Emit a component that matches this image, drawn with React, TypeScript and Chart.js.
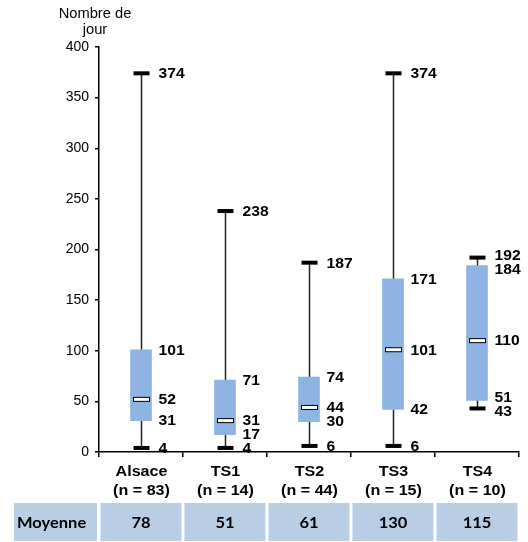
import React, { useEffect, useRef } from "react";
import { Chart, registerables } from "chart.js";

Chart.register(...registerables);

const categories = ["Alsace", "TS1", "TS2", "TS3", "TS4"];
const sampleSizes = ["(n = 83)", "(n = 14)", "(n = 44)", "(n = 15)", "(n = 10)"];
const minValues = [4, 4, 6, 6, 43];
const q1Values = [31, 17, 30, 42, 51];
const medianValues = [52, 31, 44, 101, 110];
const q3Values = [101, 71, 74, 171, 184];
const maxValues = [374, 238, 187, 374, 192];
const meanValues = [78, 51, 61, 130, 115];
const meanRowLabel = "Moyenne";
const yAxisTitle = ["Nombre de", "jour"];
const yMin = 0;
const yMax = 400;
const yStep = 50;

const STRETCH = 1.12;

function drawText(ctx: CanvasRenderingContext2D, text: string, x: number, y: number, align: CanvasTextAlign, font: string, sx = STRETCH) {
  ctx.save();
  ctx.font = font;
  ctx.fillStyle = "#000";
  ctx.textAlign = align;
  ctx.textBaseline = "middle";
  ctx.translate(x, y);
  ctx.scale(sx, 1);
  ctx.fillText(text, 0, 0);
  ctx.restore();
}

const boxPlotPlugin = {
  id: "boxPlotExtras",
  beforeDatasetsDraw(chart: any) {
    const ctx = chart.ctx as CanvasRenderingContext2D;
    const xs = chart.scales.x;
    const ys = chart.scales.y;
    ctx.save();
    ctx.strokeStyle = "#222";
    ctx.lineWidth = 1.5;
    categories.forEach((_, i) => {
      const x = Math.round(xs.getPixelForValue(i)) + 0.5;
      ctx.beginPath();
      ctx.moveTo(x, ys.getPixelForValue(minValues[i]));
      ctx.lineTo(x, ys.getPixelForValue(maxValues[i]));
      ctx.stroke();
    });
    ctx.restore();
  },
  afterDatasetsDraw(chart: any) {
    const ctx = chart.ctx as CanvasRenderingContext2D;
    const xs = chart.scales.x;
    const ys = chart.scales.y;
    const area = chart.chartArea;
    const labelFont = "bold 14px 'Liberation Sans', Arial, sans-serif";

    categories.forEach((_, i) => {
      const cx = Math.round(xs.getPixelForValue(i)) + 0.5;
      // caps
      ctx.save();
      ctx.fillStyle = "#000";
      [minValues[i], maxValues[i]].forEach((v) => {
        const y = ys.getPixelForValue(v);
        ctx.fillRect(cx - 8, y - 2, 16, 4);
      });
      // median
      const my = ys.getPixelForValue(medianValues[i]);
      ctx.fillStyle = "#fff";
      ctx.fillRect(cx - 8, my - 2, 16, 4);
      ctx.strokeStyle = "#000";
      ctx.lineWidth = 1;
      ctx.strokeRect(cx - 8, my - 2, 16, 4);
      ctx.restore();

      // value labels with simple collision avoidance
      const vals = [maxValues[i], q3Values[i], medianValues[i], q1Values[i], minValues[i]];
      const items = vals.map((v) => ({ v, y: ys.getPixelForValue(v) }));
      items.sort((a, b) => a.y - b.y);
      const minGap = 14;
      for (let k = 1; k < items.length; k++) {
        const gap = items[k].y - items[k - 1].y;
        if (gap < minGap) {
          const push = (minGap - gap) / 2;
          items[k - 1].y -= push;
          items[k].y += push;
        }
      }
      items.forEach((it) => {
        drawText(ctx, String(it.v), cx + 17, it.y + 1, "left", labelFont);
      });

      // category labels
      drawText(ctx, categories[i], cx, 472, "center", "bold 14px 'Liberation Sans', Arial, sans-serif", 1.15);
      drawText(ctx, sampleSizes[i], cx, 491, "center", "bold 14px 'Liberation Sans', Arial, sans-serif", 1.15);
    });

    // mean table
    const cellTop = 503;
    const cellBottom = 541;
    const cellMid = (cellTop + cellBottom) / 2 + 1;
    const tableFont = "bold 15px Lato, 'Open Sans', sans-serif";
    ctx.save();
    ctx.fillStyle = "#b9cde5";
    ctx.fillRect(14, cellTop, area.left - 2 - 14, cellBottom - cellTop);
    categories.forEach((_, i) => {
      const left = xs.getPixelForValue(i - 0.5);
      const right = xs.getPixelForValue(i + 0.5);
      ctx.fillRect(left + 1.5, cellTop, right - left - 3, cellBottom - cellTop);
    });
    ctx.restore();
    drawText(ctx, meanRowLabel, 17, cellMid, "left", tableFont, 1.1);
    categories.forEach((_, i) => {
      const cx = xs.getPixelForValue(i);
      drawText(ctx, String(meanValues[i]), cx, cellMid, "center", tableFont, 1.1);
    });

    // y-axis title
    drawText(ctx, yAxisTitle[0], 95, 14, "center", "14px 'Liberation Sans', Arial, sans-serif", 1.05);
    drawText(ctx, yAxisTitle[1], 95, 30, "center", "14px 'Liberation Sans', Arial, sans-serif", 1.05);
  },
};

export default function App() {
  const canvasRef = useRef<HTMLCanvasElement | null>(null);

  useEffect(() => {
    if (!canvasRef.current) return;
    const chart = new Chart(canvasRef.current, {
      type: "bar",
      data: {
        labels: categories,
        datasets: [
          {
            data: categories.map((_, i) => [q1Values[i], q3Values[i]]) as any,
            backgroundColor: "#8db4e2",
            borderWidth: 0,
            barThickness: 21,
          },
        ],
      },
      options: {
        responsive: false,
        animation: false,
        devicePixelRatio: 1,
        layout: { padding: { left: 0, top: 47, right: 9, bottom: 0 } },
        plugins: {
          legend: { display: false },
          tooltip: { enabled: false },
          title: { display: false },
        },
        scales: {
          x: {
            type: "category",
            offset: true,
            grid: {
              display: true,
              drawOnChartArea: false,
              drawTicks: true,
              tickLength: 5,
              color: "#000",
              lineWidth: 1.5,
              offset: true,
            },
            border: { display: true, color: "#000", width: 1.5 },
            ticks: { display: false },
            afterFit(scale: any) {
              scale.height = 90;
            },
          },
          y: {
            min: yMin,
            max: yMax,
            grid: {
              display: true,
              drawOnChartArea: false,
              drawTicks: true,
              tickLength: 4,
              color: "#000",
              lineWidth: 1.5,
            },
            border: { display: true, color: "#000", width: 1.5 },
            ticks: {
              stepSize: yStep,
              color: "#000",
              padding: 6,
              font: { family: "'Liberation Sans', Arial, sans-serif", size: 14 },
            },
            afterFit(scale: any) {
              scale.width = 99;
            },
          },
        },
      },
      plugins: [boxPlotPlugin],
    });
    return () => chart.destroy();
  }, []);

  return (
    <div style={{ position: "fixed", left: 0, top: 0, width: 528, height: 542, background: "#fff" }}>
      <canvas ref={canvasRef} width={528} height={542} style={{ display: "block" }} />
    </div>
  );
}
